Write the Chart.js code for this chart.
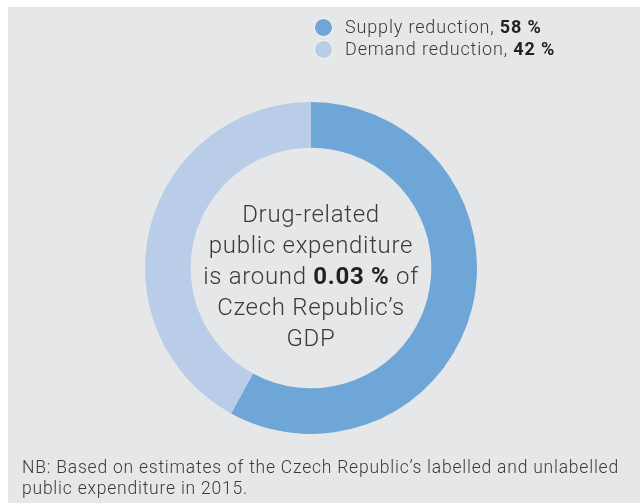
<!DOCTYPE html>
<html>
<head>
<meta charset="utf-8">
<script src="https://cdn.jsdelivr.net/npm/chart.js@4"></script>
<style>
  html, body { margin: 0; padding: 0; background: #ffffff; }
  #wrap { position: relative; width: 640px; height: 503px; overflow: hidden; }
  #panel { position: absolute; left: 8px; top: 7px; right: 0; bottom: 0; background: #e6e7e8; }
  canvas { position: absolute; left: 0; top: 0; }
  .txt { font-family: Roboto, "Liberation Sans", sans-serif; font-weight: 300; color: #3a3a3a; position: absolute; white-space: nowrap; }
  .txt b { font-weight: 700; color: #222; }
  #legend { left: 313px; top: 16px; font-size: 18px; line-height: 22px; letter-spacing: 0.85px; }
  #legend .row { position: relative; padding-left: 32px; }
  #legend .dot { position: absolute; left: 1px; top: 2px; width: 17px; height: 17px; border-radius: 50%; border: 1px solid #f4f5f6; }
  #center { left: 161px; width: 300px; top: 199px; text-align: center; font-size: 24px; line-height: 31px; letter-spacing: 0.7px; }
  #note { left: 22px; top: 457px; font-size: 17.5px; line-height: 21px; letter-spacing: 0.78px; }
</style>
</head>
<body>
<div id="wrap">
  <div id="panel"></div>
  <canvas id="c" width="640" height="503"></canvas>
  <div id="legend" class="txt"></div>
  <div id="center" class="txt"></div>
  <div id="note" class="txt"></div>
</div>
<script>
// Expenditure split by area
const categories = ['Supply reduction', 'Demand reduction'];
const shares = [58, 42];
const sliceColors = ['#6ea6d8', '#b9cde9'];

// Text in the middle of the ring
const centerLines = ['Drug-related', 'public expenditure', 'is around <b>0.03 %</b> of', 'Czech Republic\u2019s', 'GDP'];
const footnoteLines = ['NB: Based on estimates of the Czech Republic\u2019s labelled and unlabelled', 'public expenditure in 2015.'];

document.getElementById('legend').innerHTML = categories.map((c, i) =>
  `<div class="row"><span class="dot" style="background:${sliceColors[i]}"></span>${c}, <b>${shares[i]} %</b></div>`
).join('');
document.getElementById('center').innerHTML = centerLines.join('<br>');
document.getElementById('note').innerHTML = footnoteLines.join('<br>');

new Chart(document.getElementById('c'), {
  type: 'doughnut',
  data: {
    labels: categories,
    datasets: [{
      data: shares,
      backgroundColor: sliceColors,
      borderWidth: 0
    }]
  },
  options: {
    responsive: false,
    animation: false,
    cutout: '72.5%',
    layout: { padding: { left: 145, right: 163, top: 102, bottom: 69 } },
    plugins: {
      legend: { display: false },
      tooltip: { enabled: false }
    }
  }
});
</script>
</body>
</html>
